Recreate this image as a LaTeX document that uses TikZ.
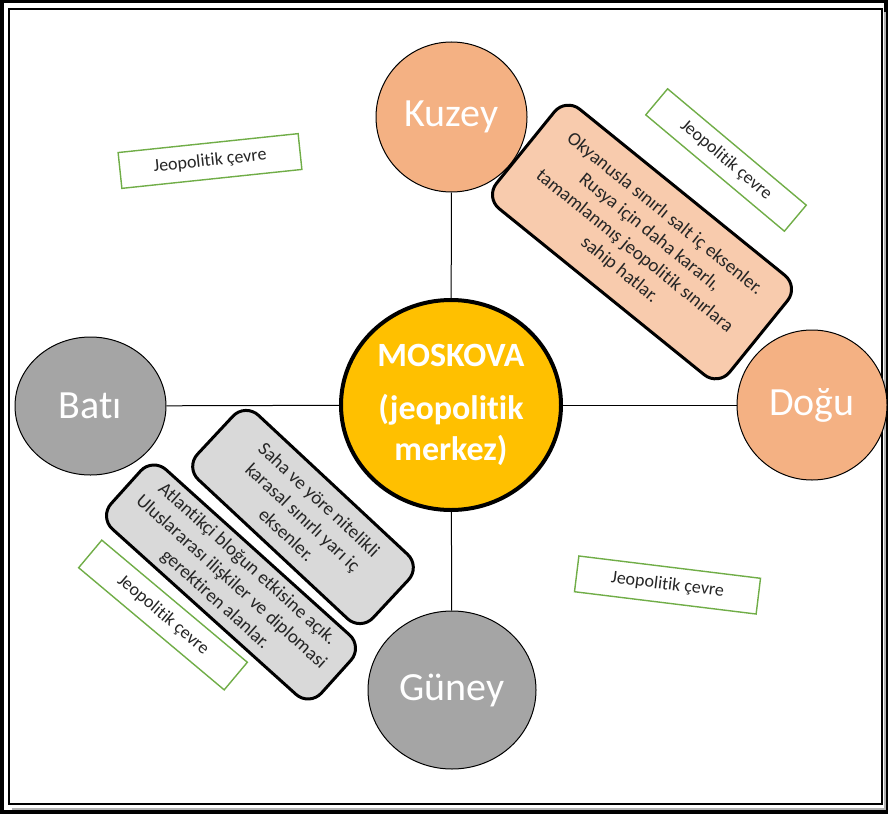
\documentclass[tikz,border=0pt]{standalone}
\usepackage{fontspec}
\setmainfont{Carlito}[Ligatures=NoCommon]
\usetikzlibrary{shapes.geometric}
\definecolor{turuncu}{HTML}{F4B183}
\definecolor{acikturuncu}{HTML}{F8CBAD}
\definecolor{gri}{HTML}{A5A5A5}
\definecolor{acikgri}{HTML}{D9D9D9}
\definecolor{sari}{HTML}{FFC000}
\definecolor{yesil}{HTML}{70AD47}
\definecolor{yazi}{HTML}{262626}

\begin{document}
\begin{tikzpicture}[x=1pt,y=1pt,
  yon/.style={ellipse,draw,line width=1pt,inner sep=0pt,text=white,
    font=\fontsize{40}{44}\selectfont},
  aciklama/.style={rectangle,rounded corners=18pt,draw,line width=3pt,
    align=center,text=yazi,inner sep=0pt,font=\fontsize{19}{24}\selectfont},
  cevre/.style={rectangle,draw=yesil,line width=1.4pt,fill=white,text=yazi,
    minimum height=36pt,inner sep=0pt,font=\fontsize{18}{20}\selectfont}]
  \useasboundingbox (0,0) rectangle (888,-816);
  \draw[line width=3.5pt] (1.75,-1.75) rectangle (886,-812);
  \draw[line width=2.5pt] (9,-9) rectangle (882,-804);
  \draw[gray!60,line width=2pt] (12,-808.5) -- (884.5,-808.5) -- (884.5,-12);

  \node[name=kuzey,yon,fill=turuncu,minimum width=151pt,minimum height=150pt] at (451.5,-117) {Kuzey};
  \node[name=bati,yon,fill=gri,minimum width=151pt,minimum height=138pt] at (90.5,-406) {Batı};
  \node[name=dogu,yon,fill=turuncu,minimum width=150pt,minimum height=150pt] at (812,-405) {Doğu};
  \node[name=guney,yon,fill=gri,minimum width=168pt,minimum height=158pt] at (452,-690) {Güney};
  \node[name=moskova,ellipse,draw,line width=4pt,fill=sari,minimum width=220pt,minimum height=210pt,
    inner sep=0pt,align=center,text=white,font=\bfseries\fontsize{34}{41}\selectfont] at (451,-405)
    {MOSKOVA\\[12pt](jeopolitik\\merkez)};

  \draw[line width=1pt] (bati) -- (moskova);
  \draw[line width=1pt] (moskova) -- (dogu);
  \draw[line width=1pt] (kuzey) -- (moskova);
  \draw[line width=1pt] (moskova) -- (guney);

  \node[name=kuzeydogu,aciklama,fill=acikturuncu,minimum width=300pt,minimum height=128pt,rotate=-39]
    at (642,-242) {Okyanusla sınırlı salt iç eksenler.\\Rusya için daha kararlı,\\tamamlanmış jeopolitik sınırlara\\sahip hatlar.};
  \node[name=batiguney,aciklama,fill=acikgri,minimum width=283pt,minimum height=80pt,rotate=-42]
    at (231,-582) {Atlantikçi bloğun etkisine açık.\\Uluslararası ilişkiler ve diplomasi\\gerektiren alanlar.};
  \node[name=saha,aciklama,fill=acikgri,minimum width=240pt,minimum height=88pt,rotate=-43]
    at (303,-517) {Saha ve yöre nitelikli\\karasal sınırlı yarı iç\\eksenler.};

  \node[name=cevre1,cevre,minimum width=181pt,rotate=6] at (210,-161) {Jeopolitik çevre};
  \node[name=cevre2,cevre,minimum width=181pt,minimum height=34pt,rotate=-40] at (726,-160) {Jeopolitik çevre};
  \node[name=cevre3,cevre,minimum width=190pt,rotate=-40] at (163,-615) {Jeopolitik çevre};
  \node[name=cevre4,cevre,minimum width=183pt,rotate=-7] at (667.5,-585) {Jeopolitik çevre};
\end{tikzpicture}
\end{document}
